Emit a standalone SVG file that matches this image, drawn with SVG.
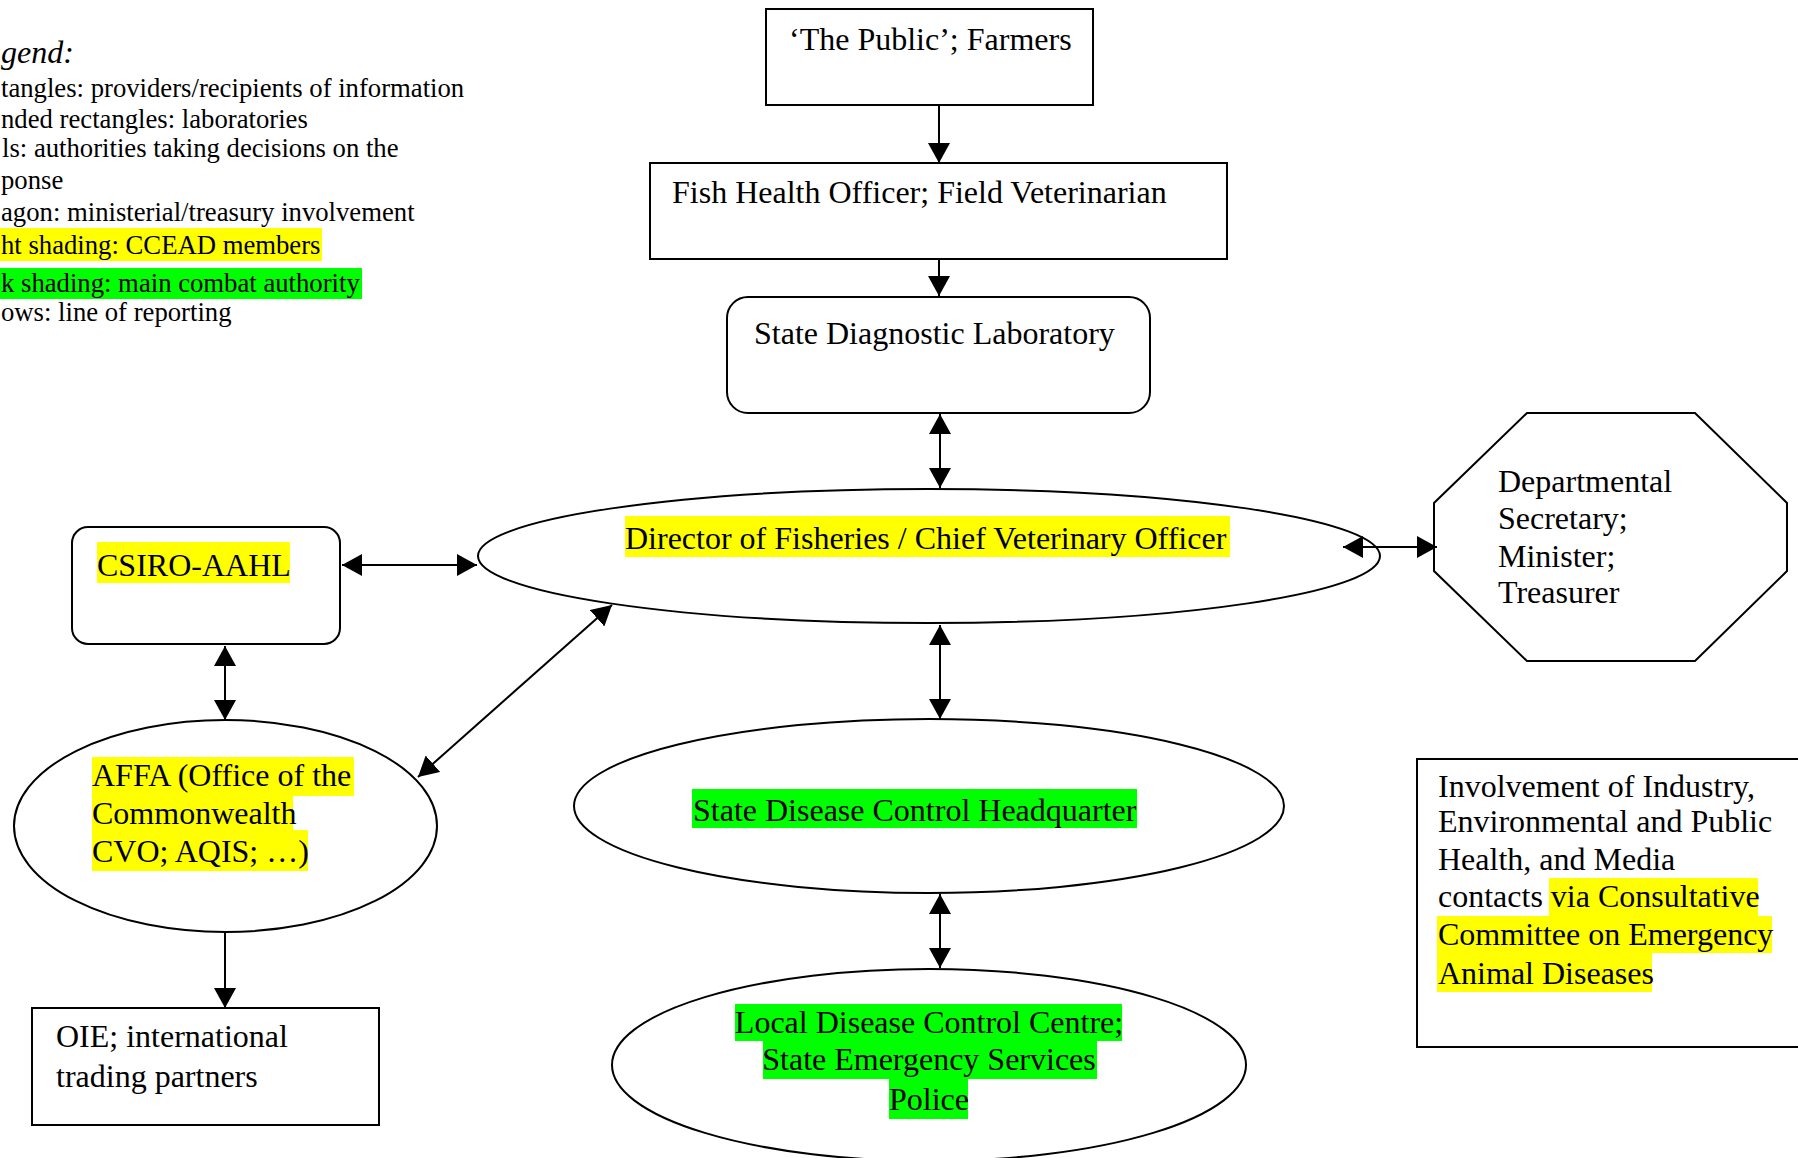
<svg xmlns="http://www.w3.org/2000/svg" width="1798" height="1158" viewBox="0 0 1798 1158">
<style>
.shape{fill:#fff;stroke:#000;stroke-width:2}
.t{font-family:"Liberation Serif","Times New Roman",serif;font-size:32px;fill:#000}
.lg{font-size:26.7px}
.hy{fill:#ffff00}
.hg{fill:#00ff00}
.conn line{stroke:#000;stroke-width:2;fill:none}
</style>
<defs>
<marker id="ah" viewBox="0 0 20 22" refX="20" refY="11" markerWidth="20" markerHeight="22" markerUnits="userSpaceOnUse" orient="auto-start-reverse"><path d="M0,0 L20,11 L0,22 z" fill="#000"/></marker>
</defs>
<rect width="1798" height="1158" fill="#fff"/>

<g id="legend">
<rect class="hy" x="0" y="228" width="322" height="33"/>
<rect class="hg" x="0" y="268" width="362" height="31"/>
<text class="t" x="1" y="63" font-style="italic">gend:</text>
<text class="t lg" x="1" y="97">tangles: providers/recipients of information</text>
<text class="t lg" x="1" y="128">nded rectangles: laboratories</text>
<text class="t lg" x="2" y="157">ls: authorities taking decisions on the</text>
<text class="t lg" x="1" y="189">ponse</text>
<text class="t lg" x="1" y="221">agon: ministerial/treasury involvement</text>
<text class="t lg" x="1" y="254">ht shading: CCEAD members</text>
<text class="t lg" x="1" y="292">k shading: main combat authority</text>
<text class="t lg" x="1" y="321">ows: line of reporting</text>
</g>

<g id="public">
<rect class="shape" x="766" y="9" width="327" height="96"/>
<text class="t" x="789" y="50">‘The Public’; Farmers</text>
</g>

<g id="fish-health">
<rect class="shape" x="650" y="163" width="577" height="96"/>
<text class="t" x="672" y="203">Fish Health Officer; Field Veterinarian</text>
</g>

<g id="state-lab">
<rect class="shape" x="727" y="297" width="423" height="116" rx="21" ry="21"/>
<text class="t" x="754" y="344">State Diagnostic Laboratory</text>
</g>

<g id="director">
<ellipse class="shape" cx="929" cy="556" rx="451" ry="67"/>
<rect class="hy" x="625" y="516" width="605" height="41"/>
<text class="t" x="625" y="549">Director of Fisheries / Chief Veterinary Officer</text>
</g>

<g id="csiro">
<rect class="shape" x="72" y="527" width="268" height="117" rx="16" ry="16"/>
<rect class="hy" x="97" y="542" width="193" height="41"/>
<text class="t" x="97" y="576">CSIRO-AAHL</text>
</g>

<g id="departmental">
<polygon class="shape" points="1527,413 1695,413 1787,503 1787,571 1695,661 1527,661 1434,571 1434,503"/>
<text class="t" x="1498" y="492">Departmental</text>
<text class="t" x="1498" y="529">Secretary;</text>
<text class="t" x="1498" y="567">Minister;</text>
<text class="t" x="1498" y="603">Treasurer</text>
</g>

<g id="affa">
<ellipse class="shape" cx="225.5" cy="826" rx="211.5" ry="106"/>
<rect class="hy" x="92" y="757" width="262" height="39"/>
<rect class="hy" x="92" y="796" width="201" height="34"/>
<rect class="hy" x="92" y="830" width="216" height="41"/>
<text class="t" x="92" y="786">AFFA (Office of the</text>
<text class="t" x="92" y="824">Commonwealth</text>
<text class="t" x="92" y="862">CVO; AQIS; …)</text>
</g>

<g id="oie">
<rect class="shape" x="32" y="1008" width="347" height="117"/>
<text class="t" x="56" y="1047">OIE; international</text>
<text class="t" x="56" y="1087">trading partners</text>
</g>

<g id="state-hq">
<ellipse class="shape" cx="929" cy="806" rx="355" ry="87"/>
<rect class="hg" x="692" y="789" width="445" height="39"/>
<text class="t" x="693" y="821">State Disease Control Headquarter</text>
</g>

<g id="local">
<ellipse class="shape" cx="929" cy="1065" rx="317" ry="96"/>
<rect class="hg" x="735" y="1004" width="387" height="37"/>
<rect class="hg" x="763" y="1041" width="334" height="38"/>
<rect class="hg" x="889" y="1079" width="79" height="40"/>
<text class="t" x="929" y="1033" text-anchor="middle">Local Disease Control Centre;</text>
<text class="t" x="929" y="1070" text-anchor="middle">State Emergency Services</text>
<text class="t" x="929" y="1110" text-anchor="middle">Police</text>
</g>

<g id="involvement">
<rect class="shape" x="1417" y="759" width="400" height="288"/>
<rect class="hy" x="1549" y="878" width="209" height="38"/>
<rect class="hy" x="1437" y="916" width="335" height="37"/>
<rect class="hy" x="1437" y="953" width="215" height="39"/>
<text class="t" x="1438" y="797">Involvement of Industry,</text>
<text class="t" x="1438" y="832">Environmental and Public</text>
<text class="t" x="1438" y="870">Health, and Media</text>
<text class="t" x="1438" y="907">contacts via Consultative</text>
<text class="t" x="1438" y="945">Committee on Emergency</text>
<text class="t" x="1438" y="984">Animal Diseases</text>
</g>

<g id="connectors" class="conn">
<line x1="939" y1="105" x2="939" y2="163" marker-end="url(#ah)"/>
<line x1="939" y1="259" x2="939" y2="296" marker-end="url(#ah)"/>
<line x1="940" y1="414" x2="940" y2="488" marker-start="url(#ah)" marker-end="url(#ah)"/>
<line x1="940" y1="625" x2="940" y2="719" marker-start="url(#ah)" marker-end="url(#ah)"/>
<line x1="940" y1="894" x2="940" y2="968" marker-start="url(#ah)" marker-end="url(#ah)"/>
<line x1="342" y1="565" x2="477" y2="565" marker-start="url(#ah)" marker-end="url(#ah)"/>
<line x1="225" y1="646" x2="225" y2="720" marker-start="url(#ah)" marker-end="url(#ah)"/>
<line x1="225" y1="932" x2="225" y2="1008" marker-end="url(#ah)"/>
<line x1="418" y1="777" x2="612" y2="605" marker-start="url(#ah)" marker-end="url(#ah)"/>
<line x1="1343" y1="547" x2="1437" y2="547" marker-start="url(#ah)" marker-end="url(#ah)"/>
</g>
</svg>
